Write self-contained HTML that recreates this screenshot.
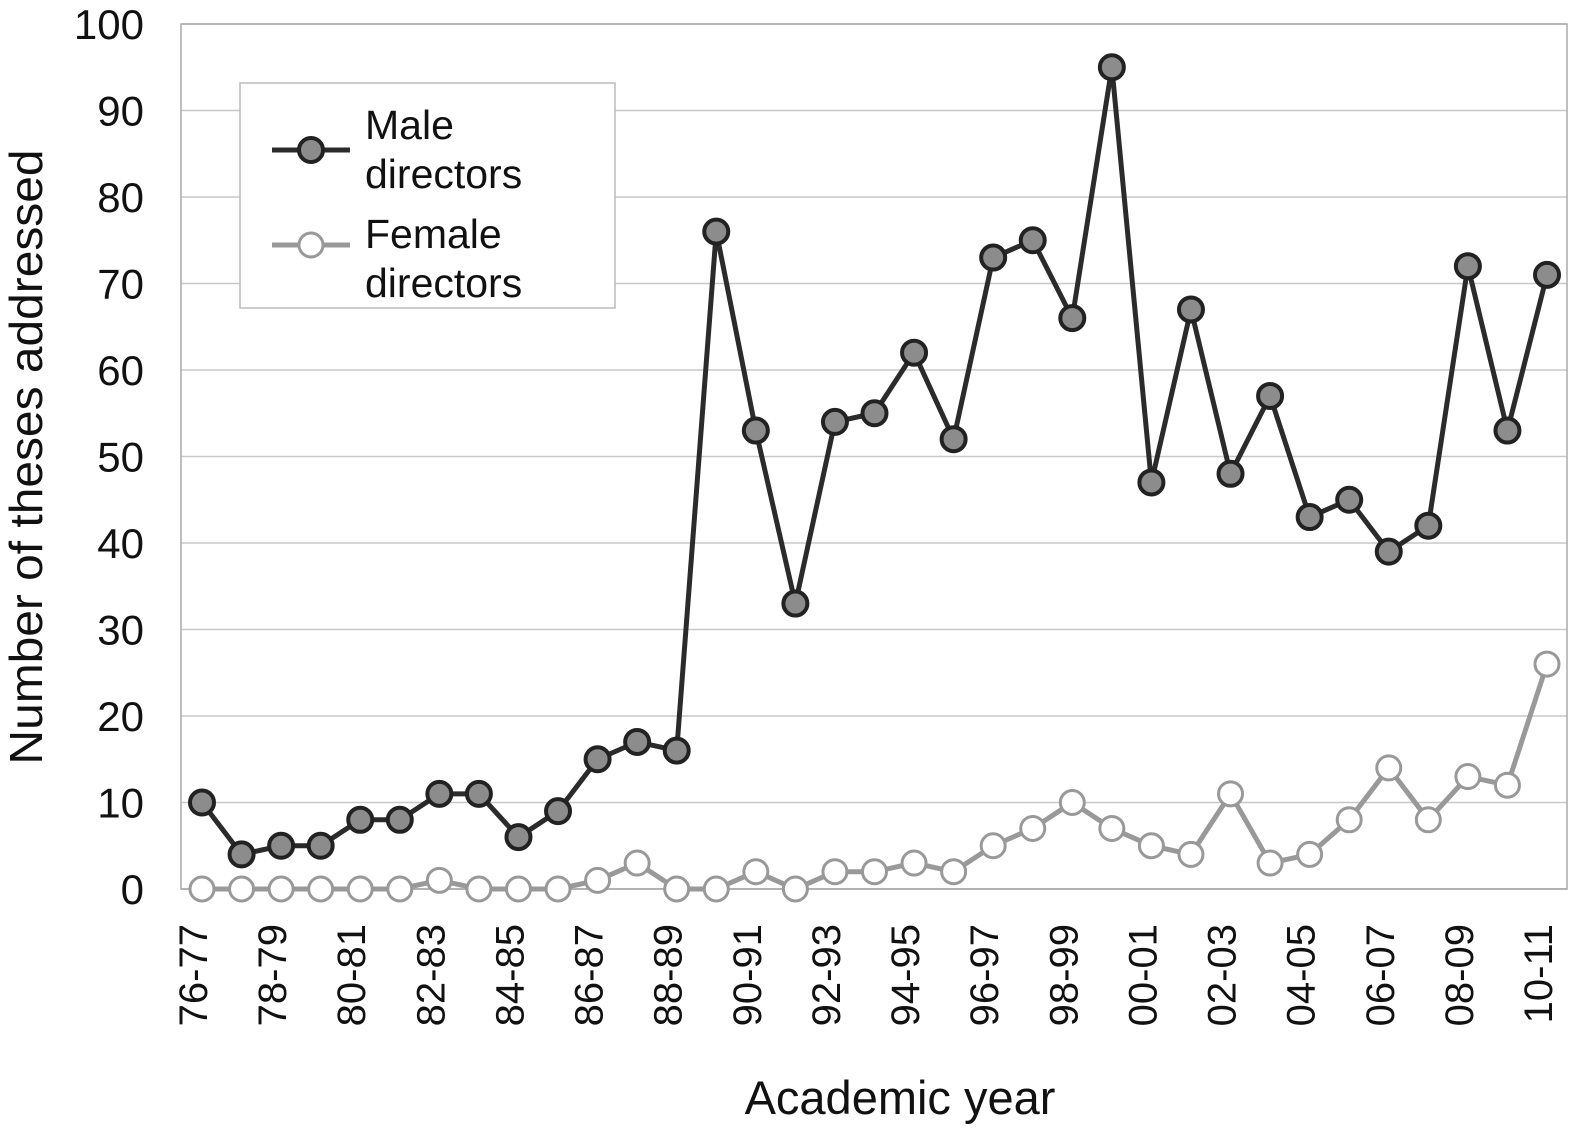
<!DOCTYPE html>
<html><head><meta charset="utf-8"><style>
html,body{margin:0;padding:0;background:#fff;}
svg{display:block;font-family:"Liberation Sans",Arial,sans-serif;}
</style></head><body>
<svg id="chart" width="1577" height="1132" viewBox="0 0 1577 1132" xmlns="http://www.w3.org/2000/svg">
<g id="grid"></g>
<g id="yticks"></g>
<g id="xticks"></g>
<g id="series"></g>
<text x="42" y="457" transform="rotate(-90 42 457)" text-anchor="middle" font-size="46" textLength="615" lengthAdjust="spacingAndGlyphs" fill="#111">Number of theses addressed</text>
<text x="900" y="1114" text-anchor="middle" font-size="47" fill="#111">Academic year</text>
<g>
<rect x="240" y="83" width="375" height="225" fill="#fff" stroke="#bbb" stroke-width="1.5"/>
<g>
<line x1="272" y1="150" x2="350" y2="150" stroke="#2b2b2b" stroke-width="5"/>
<circle cx="311" cy="150" r="12" fill="#8c8c8c" stroke="#222" stroke-width="4"/>
<text x="365" y="139" font-size="41" fill="#111">Male</text>
<text x="365" y="188" font-size="41" fill="#111">directors</text>
</g>
<g>
<line x1="272" y1="245" x2="350" y2="245" stroke="#999" stroke-width="5"/>
<circle cx="311" cy="245" r="12" fill="#fff" stroke="#999" stroke-width="3"/>
<text x="365" y="248" font-size="41" fill="#111">Female</text>
<text x="365" y="297" font-size="41" fill="#111">directors</text>
</g>
</g>
</svg>
<script>
const categories=["76-77","77-78","78-79","79-80","80-81","81-82","82-83","83-84","84-85","85-86","86-87","87-88","88-89","89-90","90-91","91-92","92-93","93-94","94-95","95-96","96-97","97-98","98-99","99-00","00-01","01-02","02-03","03-04","04-05","05-06","06-07","07-08","08-09","09-10","10-11"];
const maleValues=[10,4,5,5,8,8,11,11,6,9,15,17,16,76,53,33,54,55,62,52,73,75,66,95,47,67,48,57,43,45,39,42,72,53,71];
const femaleValues=[0,0,0,0,0,0,1,0,0,0,1,3,0,0,2,0,2,2,3,2,5,7,10,7,5,4,11,3,4,8,14,8,13,12,26];
const yTicks=[0,10,20,30,40,50,60,70,80,90,100];
const NS="http://www.w3.org/2000/svg";
const L=181,R=1567,T=24,B=889,X0=202,X1=1547;
const xs=i=>X0+(X1-X0)*i/(categories.length-1);
const ys=v=>B-(B-T)*v/100;
function mk(tag,attrs,parent){const e=document.createElementNS(NS,tag);for(const k in attrs)e.setAttribute(k,attrs[k]);parent.appendChild(e);return e;}
const grid=document.getElementById('grid'),yt=document.getElementById('yticks'),xt=document.getElementById('xticks'),ser=document.getElementById('series');
yTicks.forEach(v=>{
 const l=mk('line',{x1:L,x2:R,y1:ys(v),y2:ys(v),stroke:v===0?'#999':'#c8c8c8','stroke-width':1.5},grid);
 
 
 const t=mk('text',{x:144,y:ys(v)+15,'text-anchor':'end','font-size':42,fill:'#111'},yt);
 t.textContent=v;
 
 
});
const ax=mk('rect',{x:L,y:T,width:R-L,height:B-T,fill:'none',stroke:'#aaa','stroke-width':1.5},grid);


categories.forEach((c,i)=>{
 if(i%2)return;
 const x=xs(i)+5,y=924;
 const t=mk('text',{x:x,y:y,'text-anchor':'end','font-size':40,fill:'#111',transform:`rotate(-90 ${x} ${y})`},xt);
 t.textContent=c;
 
 
});
function drawSeries(vals,line,fill,stroke,sw,name){
 const g=mk('g',{},ser);
 
 
 const p=mk('polyline',{points:vals.map((v,i)=>xs(i)+','+ys(v)).join(' '),fill:'none',stroke:line,'stroke-width':5,'stroke-linejoin':'round'},g);
 
 
 vals.forEach((v,i)=>{
  const c=mk('circle',{cx:xs(i),cy:ys(v),r:12,fill:fill,stroke:stroke,'stroke-width':sw},g);
  
  
 });
}
drawSeries(femaleValues,'#999','#fff','#999',3,'female-directors');
drawSeries(maleValues,'#2b2b2b','#8c8c8c','#222',4,'male-directors');
</script>
</body></html>
